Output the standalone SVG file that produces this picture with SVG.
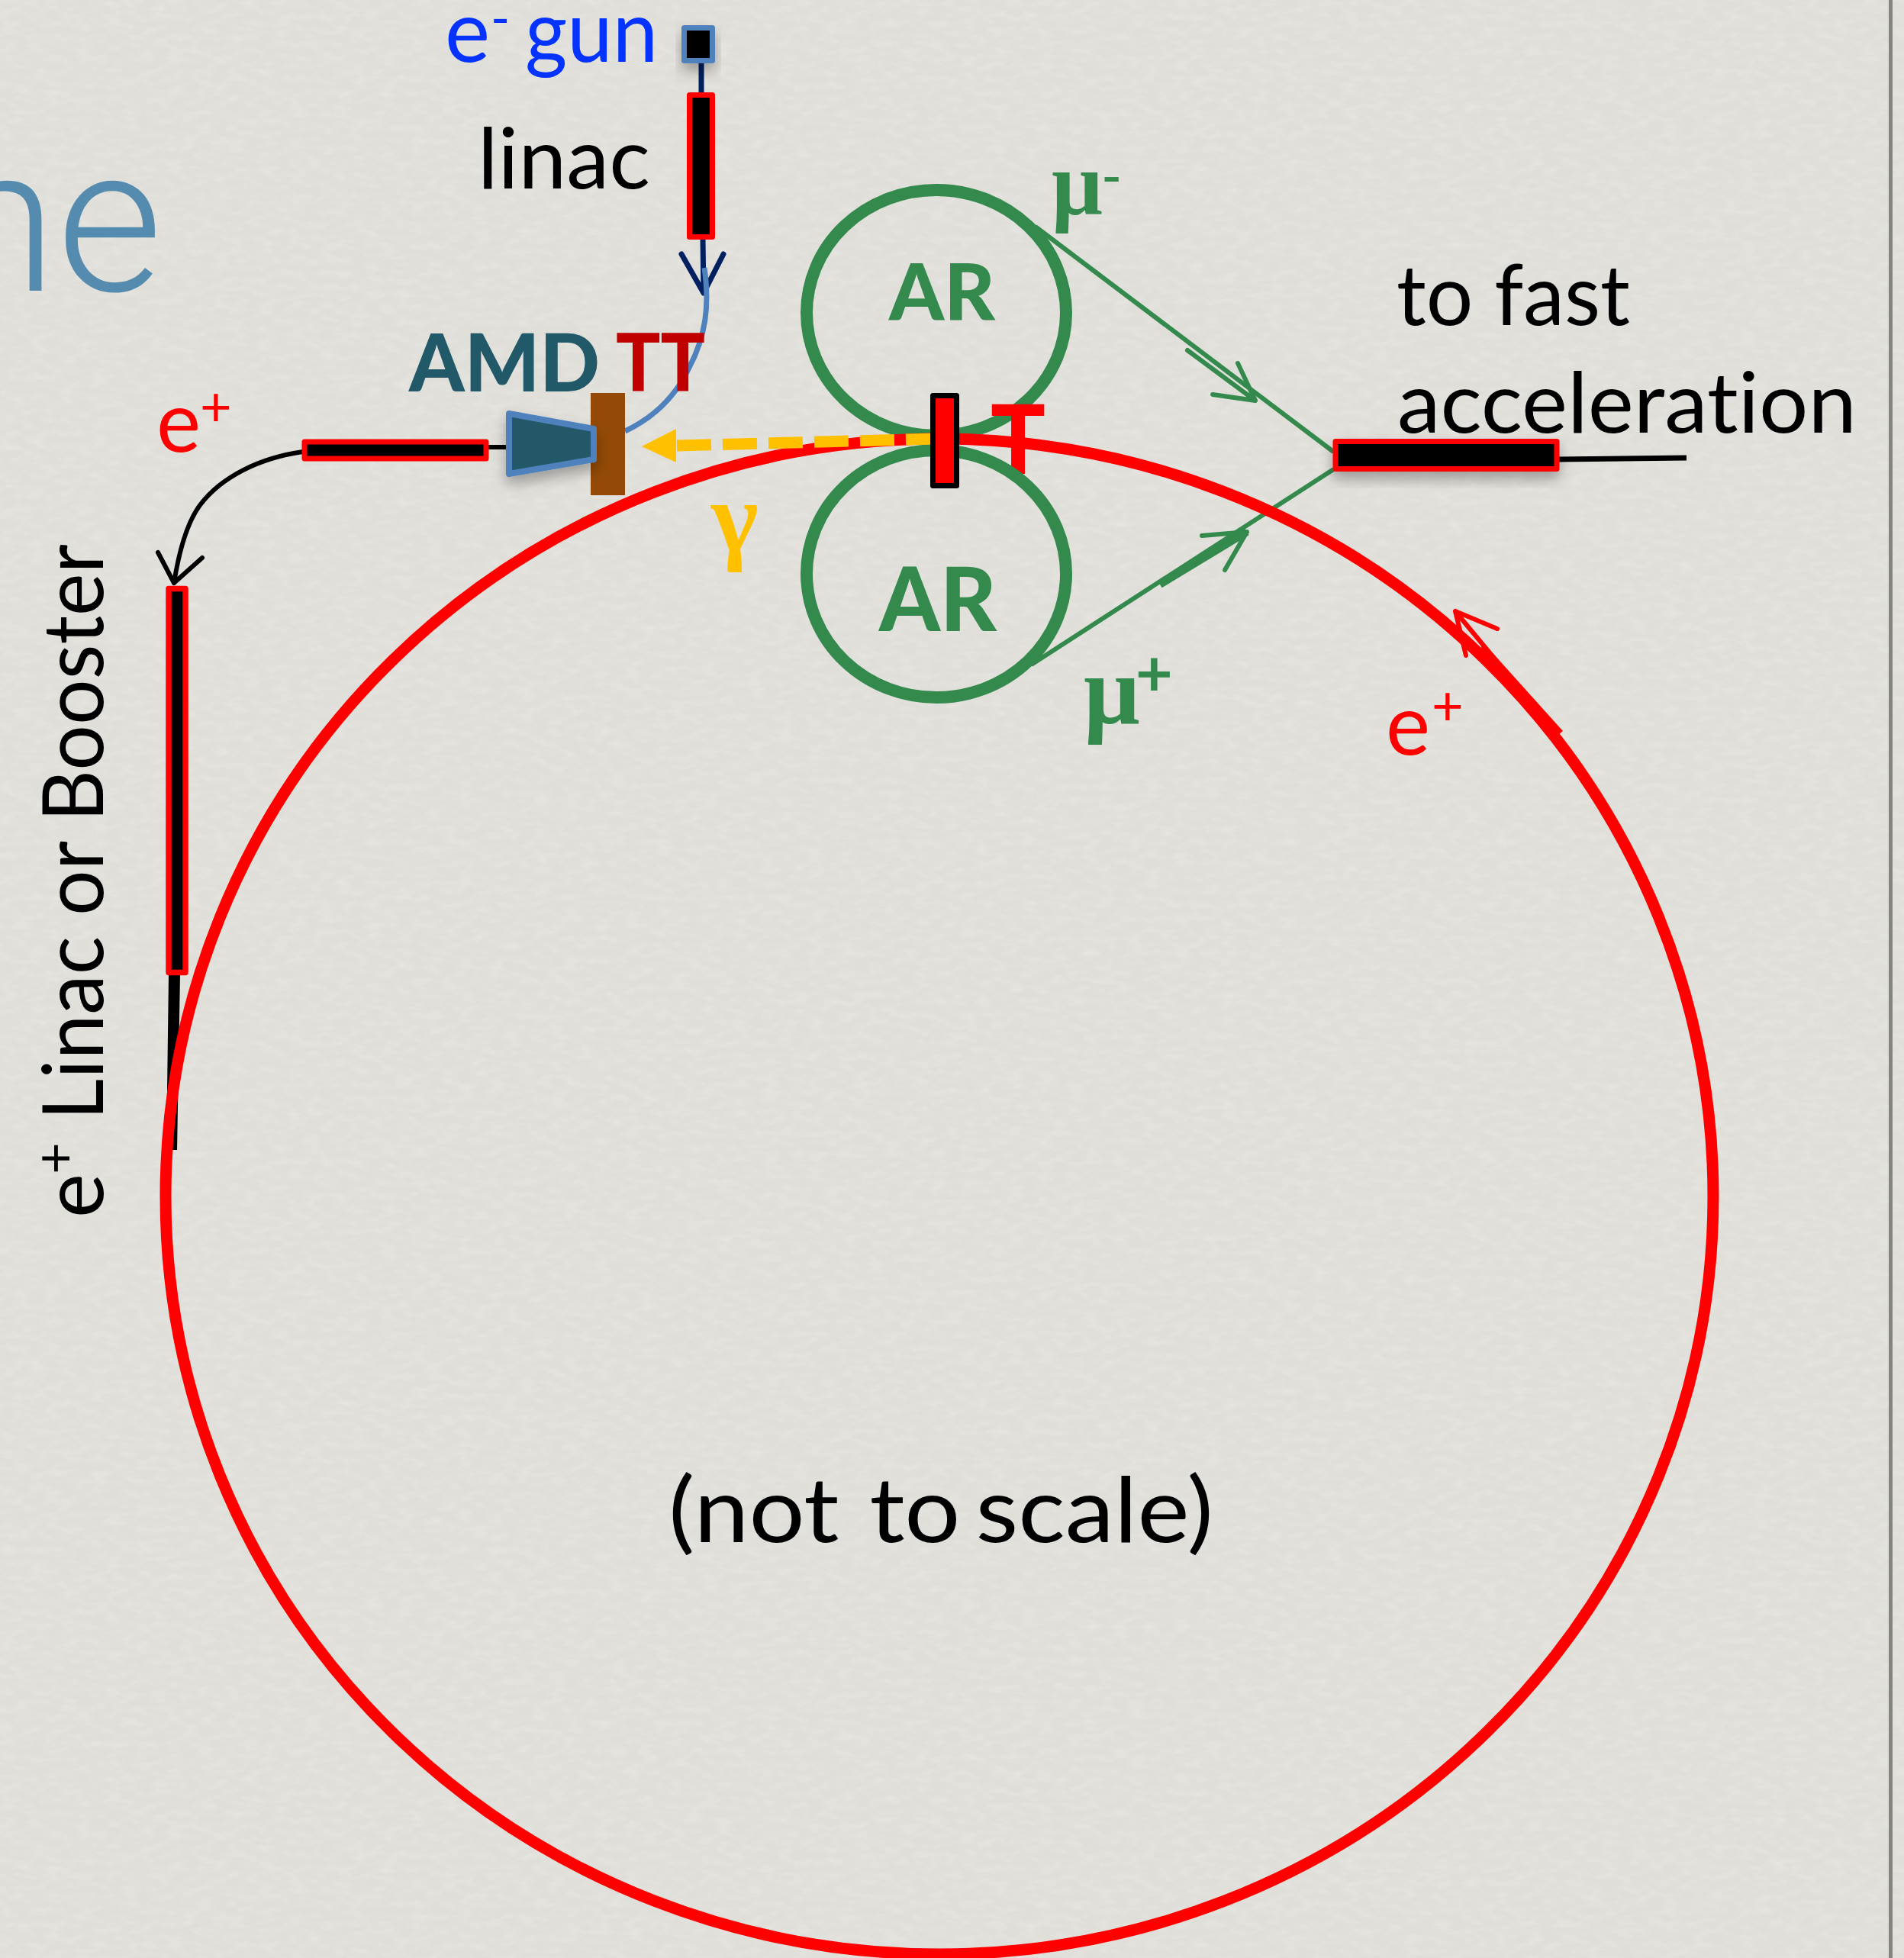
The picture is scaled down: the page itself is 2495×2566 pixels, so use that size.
<svg xmlns="http://www.w3.org/2000/svg" width="2495" height="2566" viewBox="0 0 2495 2566">
<style>
text{font-family:"Lato","Liberation Sans",sans-serif;font-variant-ligatures:none;white-space:pre}
.ln{fill:none;stroke-linecap:round;stroke-linejoin:round}
.blk{stroke:#000}
.grn{stroke:#34894d;fill:none}
.navy{stroke:#002060}
.gt{fill:#34894d}
.red{fill:#f00}
.k{fill:#000}
.b{font-weight:900}
.box{fill:#000;stroke:#f00;stroke-width:7;stroke-linejoin:round}
.shadow{filter:url(#sh)}
</style>
<defs>
<filter id="tex" x="0" y="0" width="100%" height="100%">
<feTurbulence type="fractalNoise" baseFrequency="0.05 0.11" numOctaves="4" seed="7"/>
<feColorMatrix type="matrix" values="0 0 0 0 0.95  0 0 0 0 0.945  0 0 0 0 0.93  1.2 0 0 0 -0.45"/>
</filter>
<filter id="sh" x="-30%" y="-50%" width="160%" height="220%">
<feDropShadow dx="0" dy="10" stdDeviation="9" flood-color="#000" flood-opacity="0.3"/>
</filter>
</defs>
<rect width="2495" height="2566" fill="#dfded9"/>
<rect width="2495" height="2566" filter="url(#tex)" opacity="0.4"/>
<rect x="2475" y="0" width="5" height="2566" fill="#85857f"/>
<text x="213" y="381" text-anchor="end" font-size="268" style="font-family:Roboto,sans-serif;font-weight:300" fill="#548bae">ne</text>

<g id="connectors">
<path class="ln navy" stroke-width="7" d="M919 83V122"/>
<path class="ln navy" stroke-width="7" d="M921 314L922 384M893 333L922 384L948 333"/>
<path class="ln" stroke="#4f81bd" stroke-width="7" d="M923 351C930 400 925 440 903 482C885 520 855 548 819 565" style="stroke-linecap:butt"/>
<path class="ln blk" stroke-width="6" d="M640 586H663"/>
<path class="ln blk" stroke-width="6" d="M397 592C340 600 290 625 262 662C245 685 235 720 228 764M207 724L228 764L265 731"/>
<polygon class="k" points="221,1278 236,1278 232,1507 218,1507"/>
<path class="ln blk" stroke-width="7" d="M2043 602L2210 600" style="stroke-linecap:butt"/>
<path class="ln grn" stroke-width="6" d="M1358 298L1746 591M1746 616L1353 870"/>
<path class="ln grn" stroke-width="6" d="M1556 459L1645 525M1622 476L1645 525L1589 517"/>
<path class="ln grn" stroke-width="6" d="M1575 702L1634 697L1605 747"/>
<path class="grn" stroke-width="10" d="M1520 766L1634 697"/>
</g>

<g id="ar-top">
<ellipse class="grn" cx="1227" cy="410" rx="170" ry="161" stroke-width="16"/>
<text class="gt b" x="1165" y="420" font-size="102" textLength="139" lengthAdjust="spacingAndGlyphs">AR</text>
</g>
<g id="target-t">
<text class="red b" x="1298" y="621" font-size="125" textLength="72" lengthAdjust="spacingAndGlyphs">T</text>
</g>
<g id="ar-bottom">
<ellipse class="grn" cx="1227" cy="752" rx="170" ry="162" stroke-width="16"/>
<text class="gt b" x="1152" y="827" font-size="116" textLength="154" lengthAdjust="spacingAndGlyphs">AR</text>
</g>

<g id="ring">
<ellipse cx="1231" cy="1568" rx="1014" ry="993" fill="none" stroke="#f00" stroke-width="15"/>
<path class="ln" stroke="#f00" stroke-width="6" d="M1962 824L1907 801L1921 859M1907 801L2030 950"/>
<polygon points="1940,838 2048,958 2036,968 1942,858" fill="#f00"/>
</g>

<g id="gamma">
<path d="M887 584L1229 575" stroke="#ffc000" stroke-width="15" stroke-dasharray="45 15" fill="none"/>
<polygon points="841,585 886,562 886,606" fill="#ffc000"/>
</g>

<g id="gun">
<rect class="shadow" x="896.5" y="36.5" width="37" height="43" fill="#000" stroke="#4f81bd" stroke-width="7" stroke-linejoin="round"/>
<text x="583" y="81" font-size="112" fill="#0433ff">e<tspan x="643" y="48" font-size="68">-</tspan><tspan x="688" y="81" textLength="174" lengthAdjust="spacingAndGlyphs">gun</tspan></text>
</g>
<g id="linac">
<rect class="box" x="903.5" y="124.5" width="30" height="186"/>
<text class="k" x="626" y="247" font-size="110" textLength="226" lengthAdjust="spacingAndGlyphs">linac</text>
</g>
<g id="positron-section">
<rect class="box" x="399" y="579" width="238" height="22"/>
<text class="red" x="205" y="592" font-size="110">e<tspan x="262" y="558" font-size="72">+</tspan></text>
</g>
<g id="tt">
<rect x="774" y="515" width="45" height="134" fill="#944a06"/>
<text x="807" y="513" font-size="105" font-weight="900" fill="#c00000" textLength="117" lengthAdjust="spacingAndGlyphs">TT</text>
</g>
<g id="amd">
<polygon class="shadow" points="667,542 778,562 778,602 667,621" fill="#215968" stroke="#4f81bd" stroke-width="8" stroke-linejoin="round"/>
<text x="536" y="513" font-size="105" font-weight="900" fill="#215968" textLength="250" lengthAdjust="spacingAndGlyphs">AMD</text>
</g>
<g id="t-block">
<rect x="1222.5" y="518.5" width="31" height="118" fill="#f00" stroke="#000" stroke-width="7" stroke-linejoin="round"/>
</g>
<g id="gamma-label"><text x="932" y="722" font-size="132" font-weight="700" fill="#ffc000" style="font-family:'Liberation Serif',serif">γ</text></g>
<g id="mu-minus"><text class="gt" x="1378" y="281" font-size="118" font-weight="700" style="font-family:'Liberation Serif',serif">μ<tspan x="1445" y="252" font-size="70">-</tspan></text></g>
<g id="mu-plus"><text class="gt" x="1420" y="948" font-size="130" font-weight="700" style="font-family:'Liberation Serif',serif">μ<tspan x="1488" y="912" font-size="84" style="font-family:Lato,sans-serif">+</tspan></text></g>
<g id="fast">
<rect class="box shadow" x="1750" y="578.5" width="290" height="36"/>
<text class="k" x="1830" y="426" font-size="110" textLength="306" lengthAdjust="spacingAndGlyphs">to fast</text>
<text class="k" x="1831" y="567" font-size="110" textLength="602" lengthAdjust="spacingAndGlyphs">acceleration</text>
</g>
<g id="ep-label"><text class="red" x="1816" y="989" font-size="110">e<tspan x="1876" y="950" font-size="72">+</tspan></text></g>
<g id="booster">
<rect class="box" x="221" y="771.5" width="22" height="503" style="stroke-width:7.5"/>
<g transform="translate(135 1596) rotate(-90)">
<text class="k" x="0" y="0" font-size="110">e<tspan x="57" y="-38" font-size="72">+</tspan><tspan x="128" y="0" textLength="755" lengthAdjust="spacingAndGlyphs">Linac or Booster</tspan></text>
</g>
</g>
<g id="note"><text class="k" x="876" y="2021" font-size="118" textLength="714" lengthAdjust="spacingAndGlyphs" style="word-spacing:-12px">(not  to scale)</text></g>
</svg>
